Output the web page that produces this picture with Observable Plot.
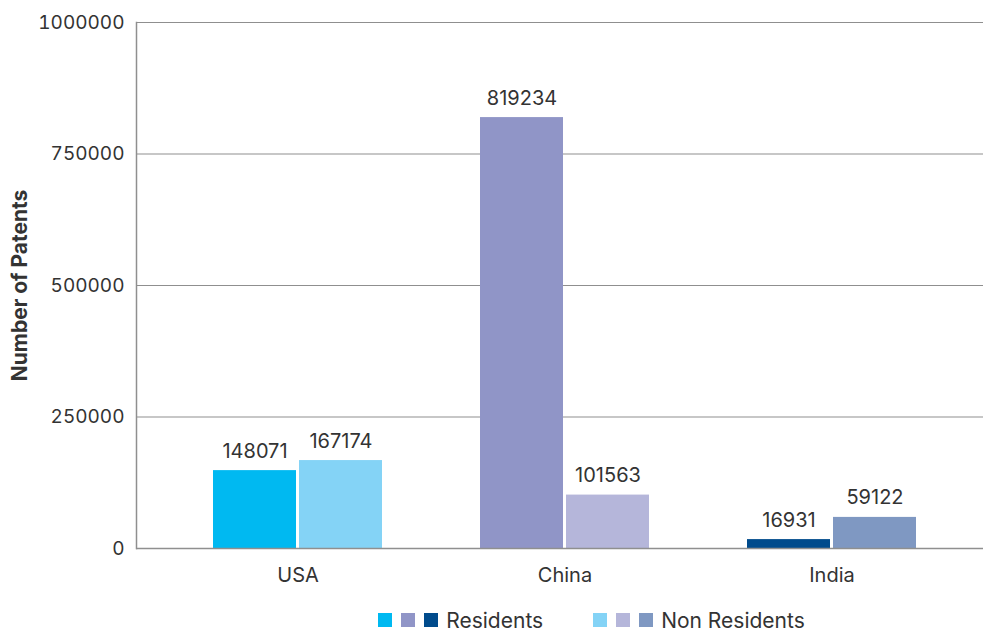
<!DOCTYPE html>
<html>
<head>
<meta charset="utf-8">
<script src="https://cdn.jsdelivr.net/npm/d3@7"></script>
<script src="https://cdn.jsdelivr.net/npm/@observablehq/plot@0.6"></script>
<style>
  html, body { margin: 0; padding: 0; background: #fff; }
  body { width: 983px; height: 631px; overflow: hidden; font-family: Inter, "Open Sans", sans-serif; color: #333; }
  #chart svg { display: block; }
  [aria-label="y-axis label"] text { font-weight: 700; font-size: 21px; }
  .legend { display: flex; justify-content: center; align-items: center; height: 50px; font-size: 21px; line-height: 1; color: #333; padding-left: 200px; box-sizing: border-box; }
  .legend .group { display: flex; align-items: center; margin: 0 25px; }
  .legend .sw { width: 14px; height: 14px; margin-right: 9px; }
  .legend .lbl { margin-left: -1px; }
</style>
</head>
<body>
<div id="chart"></div>
<div class="legend" id="legend"></div>
<script>
const countries = ["USA", "China", "India"];
const seriesNames = ["Residents", "Non Residents"];
const residents = [148071, 819234, 16931];
const nonResidents = [167174, 101563, 59122];
const residentColors = ["#00b9f1", "#9095c7", "#004b8c"];
const nonResidentColors = ["#84d3f6", "#b5b6da", "#7f98c2"];
const yTicks = [0, 250000, 500000, 750000, 1000000];
const yLabel = "Number of Patents";

const resData = countries.map((c, i) => ({country: c, type: seriesNames[0], value: residents[i], key: c + " " + seriesNames[0]}));
const nonData = countries.map((c, i) => ({country: c, type: seriesNames[1], value: nonResidents[i], key: c + " " + seriesNames[1]}));
const colorDomain = [...resData, ...nonData].map(d => d.key);
const colorRange = [...residentColors, ...nonResidentColors];

const fs = "19px";
const plot = Plot.plot({
  width: 983,
  height: 595,
  marginTop: 22,
  marginBottom: 47,
  marginLeft: 136,
  marginRight: 0,
  style: {fontFamily: "Inter, 'Open Sans', sans-serif", fontSize: fs, color: "#333", background: "#fff"},
  x: {domain: countries, range: [164, 965], padding: 0, label: null},
  y: {domain: [0, 1000000], label: null},
  color: {type: "ordinal", domain: colorDomain, range: colorRange},
  marks: [
    Plot.ruleY(yTicks.slice(1), {stroke: "#8f8f8f", strokeWidth: 1}),
    Plot.barY(resData, {x: "country", y: "value", fill: "key", insetLeft: 49, insetRight: 135}),
    Plot.barY(nonData, {x: "country", y: "value", fill: "key", insetLeft: 135, insetRight: 49}),
    Plot.ruleY([0], {stroke: "#8f8f8f", strokeWidth: 1.5}),
    Plot.frame({anchor: "left", stroke: "#8f8f8f", strokeWidth: 1.5}),
    Plot.text(resData, {x: "country", y: "value", text: d => String(d.value), dx: -43, dy: -13, lineAnchor: "bottom", fontSize: "20px", fill: "#333"}),
    Plot.text(nonData, {x: "country", y: "value", text: d => String(d.value), dx: 43, dy: -13, lineAnchor: "bottom", fontSize: "20px", fill: "#333"}),
    Plot.axisY(yTicks, {tickSize: 0, tickPadding: 12, tickFormat: d3.format("d"), fontSize: fs, label: yLabel, labelAnchor: "center", labelArrow: "none", labelOffset: 124}),
    Plot.axisX({tickSize: 0, tickPadding: 19, fontSize: "20px", label: null})
  ]
});
document.getElementById("chart").appendChild(plot);

const legend = document.getElementById("legend");
[[seriesNames[0], residentColors], [seriesNames[1], nonResidentColors]].forEach(([name, cols]) => {
  const g = document.createElement("div");
  g.className = "group";
  cols.forEach(c => {
    const s = document.createElement("div");
    s.className = "sw";
    s.style.background = c;
    g.appendChild(s);
  });
  const t = document.createElement("span");
  t.className = "lbl";
  t.textContent = name;
  g.appendChild(t);
  legend.appendChild(g);
});
</script>
</body>
</html>
